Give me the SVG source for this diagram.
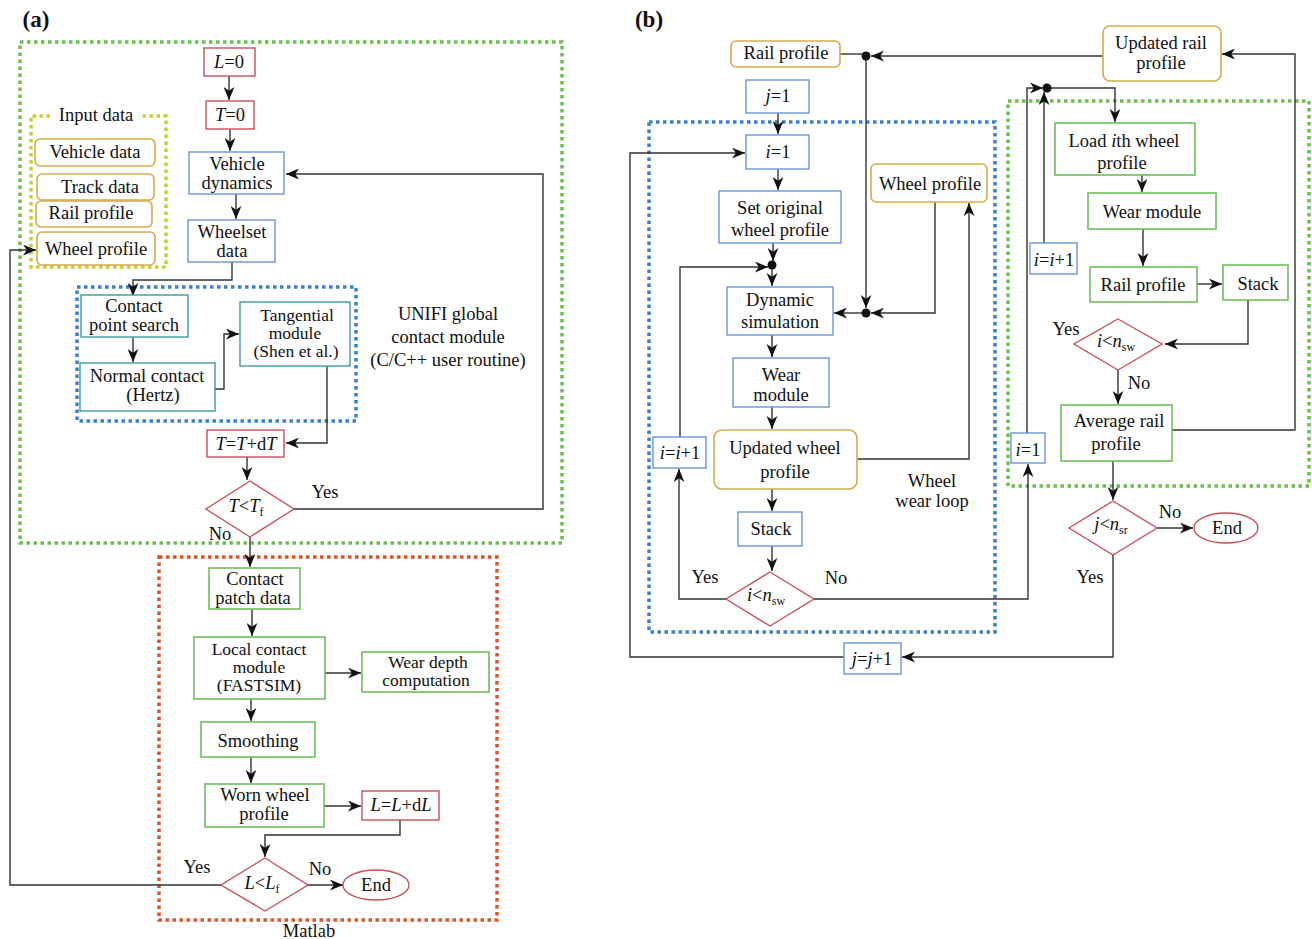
<svg xmlns="http://www.w3.org/2000/svg" width="1312" height="939" viewBox="0 0 1312 939">
<style>
text{font-family:"Liberation Serif","Times New Roman",serif;font-size:18.5px;fill:#111;text-anchor:middle}
.i{font-style:italic}
.sub{font-size:12px}
.t{font-size:17.5px}
.red{fill:#fff;stroke:#c8505f;stroke-width:1.4}
.blue{fill:#fff;stroke:#6e93d6;stroke-width:1.4}
.teal{fill:#fff;stroke:#3f9a9c;stroke-width:1.4}
.green{fill:#fff;stroke:#6cbf5a;stroke-width:1.6}
.tan{fill:#fff;stroke:#d6aa4c;stroke-width:1.6}
.c{fill:none;stroke:#333;stroke-width:1.4}
.ca{fill:none;stroke:#333;stroke-width:1.4;marker-end:url(#ah)}
.dg{fill:none;stroke:#6cbf4f;stroke-width:3.5;stroke-dasharray:3.5,3.5}
.db{fill:none;stroke:#3b7fd0;stroke-width:3.5;stroke-dasharray:3.5,3.5}
.dy{fill:none;stroke:#c8d02a;stroke-width:3.5;stroke-dasharray:3.5,3.5}
.dr{fill:none;stroke:#d9542a;stroke-width:3.5;stroke-dasharray:3.5,3.5}
</style>
<defs>
<marker id="ah" viewBox="0 0 12 10" refX="12" refY="5" markerWidth="13" markerHeight="11" orient="auto" markerUnits="userSpaceOnUse">
<path d="M0,0 L12,5 L0,10 L3.5,5 z" fill="#111"/>
</marker>
</defs>
<rect width="1312" height="939" fill="#fff"/>

<!-- panel labels -->
<text x="36" y="27" style="font-weight:bold;font-size:23px">(a)</text>
<text x="649" y="27" style="font-weight:bold;font-size:23px">(b)</text>

<!-- group frames (a) -->
<g id="frame-green-a"><rect class="dg" x="20" y="42" width="542" height="501"/></g>
<g id="frame-input">
<path class="dy" d="M50,116 H31 V267 H166 V116 H140"/>
<text x="96" y="121">Input data</text>
</g>
<g id="frame-unifi">
<rect class="db" x="77" y="287" width="279" height="134"/>
<text x="448" y="320">UNIFI global</text>
<text x="448" y="343">contact module</text>
<text x="448" y="366">(C/C++ user routine)</text>
</g>
<g id="frame-matlab">
<rect class="dr" x="159" y="557" width="338" height="363"/>
<text x="309" y="937">Matlab</text>
</g>

<!-- frames (b) -->
<g id="frame-wheel-loop">
<rect class="db" x="649" y="122" width="346" height="510"/>
<text x="932" y="487">Wheel</text>
<text x="932" y="507">wear loop</text>
</g>
<g id="frame-rail-loop"><rect class="dg" x="1008" y="101" width="301" height="385"/></g>

<!-- connectors -->
<g id="connectors">
<path class="ca" d="M229,76 V100"/>
<path class="ca" d="M230,129 V151"/>
<path class="ca" d="M236,194 V219"/>
<path class="ca" d="M232,262 V280 H133 V296"/>
<path class="ca" d="M133,337 V362"/>
<path class="ca" d="M215,389 H224 V334 H239"/>
<path class="ca" d="M327,366 V443 H286"/>
<path class="ca" d="M247,457 V480"/>
<path class="ca" d="M294,509 H543 V174 H286"/>
<path class="ca" d="M250,537 V567"/>
<path class="ca" d="M252,609 V636"/>
<path class="ca" d="M325,673 H361"/>
<path class="ca" d="M251,699 V721"/>
<path class="ca" d="M251,757 V783"/>
<path class="ca" d="M324,806 H361"/>
<path class="ca" d="M400,820 V835 H265 V857"/>
<path class="ca" d="M308,885 H343"/>
<path class="ca" d="M221,885 H10 V250 H36"/>

<path class="c" d="M840,54 H866"/>
<path class="ca" d="M1103,56 H871"/>
<path class="ca" d="M866,56 V308"/>
<path class="ca" d="M935,202 V313 H871"/>
<path class="ca" d="M866,313 H834"/>
<path class="ca" d="M778,113 V134"/>
<path class="ca" d="M778,169 V190"/>
<path class="ca" d="M773,243 V261"/>
<path class="ca" d="M772,265 V286"/>
<path class="ca" d="M680,437 V267 H768"/>
<path class="ca" d="M772,335 V357"/>
<path class="ca" d="M772,407 V429"/>
<path class="ca" d="M857,459 H969 V203"/>
<path class="ca" d="M772,489 V511"/>
<path class="ca" d="M772,546 V571"/>
<path class="ca" d="M726,599 H679 V469"/>
<path class="ca" d="M814,599 H1028 V464"/>
<path class="ca" d="M1027,433 V88 H1043"/>
<path class="ca" d="M1044,243 V92"/>
<path class="ca" d="M1047,88 H1115 V122"/>
<path class="ca" d="M1142,175 V192"/>
<path class="ca" d="M1143,229 V266"/>
<path class="ca" d="M1197,284 H1222"/>
<path class="ca" d="M1248,300 V344 H1165"/>
<path class="ca" d="M1118,370 V404"/>
<path class="ca" d="M1172,430 H1295 V54 H1222"/>
<path class="ca" d="M1113,461 V500"/>
<path class="ca" d="M1157,528 H1193"/>
<path class="ca" d="M1113,555 V657 H902"/>
<path class="ca" d="M844,657 H630 V153 H745"/>
<circle cx="866" cy="56" r="4.5" fill="#111"/>
<circle cx="866" cy="313" r="4.5" fill="#111"/>
<circle cx="772" cy="265" r="4.5" fill="#111"/>
<circle cx="1047" cy="88" r="4.5" fill="#111"/>
</g>

<!-- (a) nodes -->
<g id="a-L0"><rect class="red" x="204" y="48" width="51" height="28"/><text x="229" y="68"><tspan class="i">L</tspan>=0</text></g>
<g id="a-T0"><rect class="red" x="206" y="101" width="48" height="28"/><text x="230" y="121"><tspan class="i">T</tspan>=0</text></g>
<g id="a-vehdyn"><rect class="blue" x="189" y="152" width="95" height="42"/><text x="237" y="170">Vehicle</text><text x="237" y="189">dynamics</text></g>
<g id="a-wheelset"><rect class="blue" x="188" y="220" width="87" height="42"/><text x="232" y="238">Wheelset</text><text x="232" y="257">data</text></g>
<g id="a-vehdata"><rect class="tan" x="35" y="139" width="120" height="27" rx="5"/><text x="95" y="158">Vehicle data</text></g>
<g id="a-trackdata"><rect class="tan" x="37" y="174" width="117" height="26" rx="5"/><text x="100" y="193">Track data</text></g>
<g id="a-railprof"><rect class="tan" x="36" y="201" width="116" height="26" rx="5"/><text x="91" y="219">Rail profile</text></g>
<g id="a-wheelprof"><rect class="tan" x="37" y="232" width="118" height="33" rx="5"/><text x="96" y="255">Wheel profile</text></g>
<g id="a-cps"><rect class="teal" x="81" y="295" width="107" height="42"/><text x="134" y="312">Contact</text><text x="134" y="331">point search</text></g>
<g id="a-normal"><rect class="teal" x="80" y="363" width="135" height="48"/><text x="147" y="382">Normal contact</text><text x="153" y="401">(Hertz)</text></g>
<g id="a-tang"><rect class="teal" x="240" y="302" width="110" height="64"/><text class="t" x="297" y="321">Tangential</text><text class="t" x="295" y="339">module</text><text class="t" x="296" y="357">(Shen et al.)</text></g>
<g id="a-TdT"><rect class="red" x="207" y="430" width="77" height="27"/><text x="246" y="450"><tspan class="i">T</tspan>=<tspan class="i">T</tspan>+d<tspan class="i">T</tspan></text></g>
<g id="a-TTf"><polygon class="red" points="250,481 294,509 250,537 206,509"/><text x="246" y="512"><tspan class="i">T</tspan>&lt;<tspan class="i">T</tspan><tspan class="sub" dy="4">f</tspan></text></g>
<text x="325" y="498">Yes</text>
<text x="220" y="540">No</text>
<g id="a-cpd"><rect class="green" x="209" y="568" width="91" height="41"/><text x="255" y="585">Contact</text><text x="253" y="604">patch data</text></g>
<g id="a-local"><rect class="green" x="194" y="637" width="131" height="62"/><text class="t" x="259" y="655">Local contact</text><text class="t" x="259" y="673">module</text><text class="t" x="259" y="691">(FASTSIM)</text></g>
<g id="a-weardepth"><rect class="green" x="362" y="652" width="127" height="40"/><text class="t" x="428" y="668">Wear depth</text><text class="t" x="426" y="686">computation</text></g>
<g id="a-smooth"><rect class="green" x="201" y="722" width="114" height="35"/><text x="258" y="747">Smoothing</text></g>
<g id="a-worn"><rect class="green" x="205" y="784" width="119" height="43"/><text x="265" y="801">Worn wheel</text><text x="264" y="820">profile</text></g>
<g id="a-LdL"><rect class="red" x="362" y="791" width="77" height="29"/><text x="401" y="811"><tspan class="i">L</tspan>=<tspan class="i">L</tspan>+d<tspan class="i">L</tspan></text></g>
<g id="a-LLf"><polygon class="red" points="265,858 308,885 265,911 221,885"/><text x="262" y="889"><tspan class="i">L</tspan>&lt;<tspan class="i">L</tspan><tspan class="sub" dy="4">f</tspan></text></g>
<g id="a-end"><ellipse class="red" cx="376" cy="885" rx="33" ry="15"/><text x="376" y="891">End</text></g>
<text x="197" y="873">Yes</text>
<text x="320" y="875">No</text>

<!-- (b) nodes -->
<g id="b-rail"><rect class="tan" x="731" y="41" width="109" height="26" rx="5"/><text x="786" y="59">Rail profile</text></g>
<g id="b-updrail"><rect class="tan" x="1103" y="26" width="118" height="55" rx="7"/><text x="1161" y="49">Updated rail</text><text x="1161" y="69">profile</text></g>
<g id="b-j1"><rect class="blue" x="746" y="80" width="63" height="33"/><text x="778" y="102"><tspan class="i">j</tspan>=1</text></g>
<g id="b-i1"><rect class="blue" x="746" y="135" width="63" height="34"/><text x="778" y="158"><tspan class="i">i</tspan>=1</text></g>
<g id="b-setorig"><rect class="blue" x="719" y="191" width="122" height="52"/><text x="780" y="214">Set original</text><text x="780" y="236">wheel profile</text></g>
<g id="b-wheelprof"><rect class="tan" x="871" y="164" width="116" height="38" rx="5"/><text x="930" y="190">Wheel profile</text></g>
<g id="b-dynsim"><rect class="blue" x="727" y="287" width="106" height="48"/><text x="780" y="306">Dynamic</text><text x="780" y="328">simulation</text></g>
<g id="b-wear"><rect class="blue" x="733" y="358" width="96" height="49"/><text x="781" y="381">Wear</text><text x="781" y="401">module</text></g>
<g id="b-updwheel"><rect class="tan" x="714" y="430" width="143" height="59" rx="8"/><text x="785" y="454">Updated wheel</text><text x="785" y="478">profile</text></g>
<g id="b-stack"><rect class="blue" x="738" y="512" width="64" height="34"/><text x="771" y="535">Stack</text></g>
<g id="b-insw"><polygon class="red" points="770,572 814,599 770,626 726,599"/><text x="766" y="601"><tspan class="i">i</tspan>&lt;<tspan class="i">n</tspan><tspan class="sub" dy="4">sw</tspan></text></g>
<text x="705" y="583">Yes</text>
<text x="836" y="584">No</text>
<g id="b-iinc"><rect class="blue" x="653" y="437" width="53" height="31"/><text x="680" y="459"><tspan class="i">i</tspan>=<tspan class="i">i</tspan>+1</text></g>
<g id="b-jinc"><rect class="blue" x="844" y="643" width="57" height="31"/><text x="872" y="665"><tspan class="i">j</tspan>=<tspan class="i">j</tspan>+1</text></g>
<g id="b-i1r"><rect class="blue" x="1011" y="433" width="34" height="30"/><text x="1028" y="456"><tspan class="i">i</tspan>=1</text></g>
<g id="b-iincr"><rect class="blue" x="1030" y="243" width="47" height="31"/><text x="1054" y="266"><tspan class="i">i</tspan>=<tspan class="i">i</tspan>+1</text></g>
<g id="b-load"><rect class="green" x="1055" y="123" width="140" height="52"/><text x="1124" y="147">Load <tspan class="i">i</tspan>th wheel</text><text x="1122" y="169">profile</text></g>
<g id="b-wearr"><rect class="green" x="1088" y="193" width="128" height="36"/><text x="1152" y="218">Wear module</text></g>
<g id="b-railr"><rect class="green" x="1090" y="267" width="107" height="35"/><text x="1143" y="291">Rail profile</text></g>
<g id="b-stackr"><rect class="green" x="1223" y="265" width="65" height="35"/><text x="1258" y="290">Stack</text></g>
<g id="b-inswr"><polygon class="red" points="1118,319 1162,344 1118,370 1074,344"/><text x="1116" y="347"><tspan class="i">i</tspan>&lt;<tspan class="i">n</tspan><tspan class="sub" dy="4">sw</tspan></text></g>
<text x="1066" y="335">Yes</text>
<text x="1139" y="389">No</text>
<g id="b-avg"><rect class="green" x="1061" y="405" width="111" height="56"/><text x="1119" y="427">Average rail</text><text x="1116" y="450">profile</text></g>
<g id="b-jnsr"><polygon class="red" points="1113,501 1157,528 1113,555 1069,528"/><text x="1111" y="530"><tspan class="i">j</tspan>&lt;<tspan class="i">n</tspan><tspan class="sub" dy="4">sr</tspan></text></g>
<g id="b-end"><ellipse class="red" cx="1226" cy="528" rx="32" ry="15"/><text x="1227" y="534">End</text></g>
<text x="1170" y="518">No</text>
<text x="1090" y="583">Yes</text>
</svg>
